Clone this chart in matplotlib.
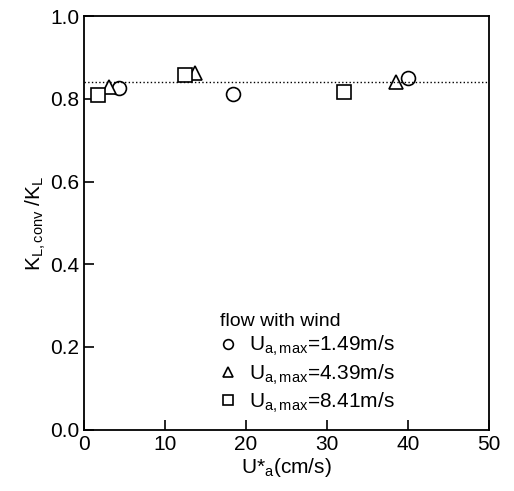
import matplotlib.pyplot as plt

plt.rcParams['font.family'] = ['Liberation Sans', 'DejaVu Sans']
plt.rcParams['mathtext.fontset'] = 'custom'
plt.rcParams['mathtext.rm'] = 'Liberation Sans'
plt.rcParams['mathtext.it'] = 'Liberation Sans'

# data
u_149 = [4.4, 18.4, 40.0]
k_149 = [0.827, 0.813, 0.851]
u_439 = [3.1, 13.7, 38.5]
k_439 = [0.828, 0.863, 0.842]
u_841 = [1.7, 12.5, 32.1]
k_841 = [0.810, 0.858, 0.816]
mean_ratio = 0.84

fig = plt.figure(figsize=(5.14, 4.91), dpi=100)
ax = fig.add_axes([0.163, 0.125, 0.788, 0.842])

mk = dict(linestyle='none', markerfacecolor='white', markeredgecolor='black',
          markeredgewidth=1.2, markersize=10)
ax.plot(u_149, k_149, marker='o', label=r'$\mathregular{U_{a,max}}$=1.49m/s', **mk)
ax.plot(u_439, k_439, marker='^', label=r'$\mathregular{U_{a,max}}$=4.39m/s', **mk)
ax.plot(u_841, k_841, marker='s', label=r'$\mathregular{U_{a,max}}$=8.41m/s', **mk)
ax.axhline(mean_ratio, color='black', linestyle=':', linewidth=1)

ax.set_xlim(0, 50)
ax.set_ylim(0, 1.0)
ax.set_xticks([0, 10, 20, 30, 40, 50])
ax.set_yticks([0.0, 0.2, 0.4, 0.6, 0.8, 1.0])
ax.tick_params(direction='in', length=7, width=1.2, labelsize=15)
ax.tick_params(axis='x', pad=4)
ax.tick_params(axis='y', pad=3)
for s in ax.spines.values():
    s.set_linewidth(1.3)

ax.set_xlabel(r'U*$\mathregular{_a}$(cm/s)', fontsize=15, labelpad=1)
ax.set_ylabel(r'$\mathregular{K_{L,conv}}$ /$\mathregular{K_L}$', fontsize=15, labelpad=2)

leg = ax.legend(title='flow with wind', loc='lower left', bbox_to_anchor=(0.29, -0.01),
                frameon=False, fontsize=15, title_fontsize=14, markerscale=0.7,
                handlelength=0.8, handletextpad=0.6, labelspacing=0.2)
leg._legend_box.align = 'left'

plt.savefig('out.png', dpi=100)
